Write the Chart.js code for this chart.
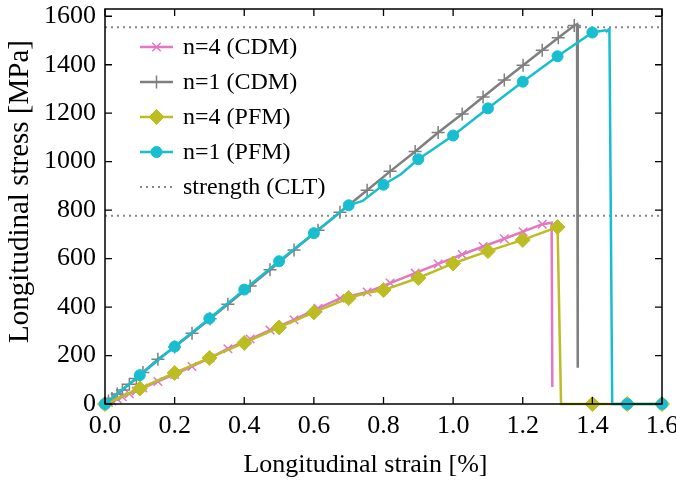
<!DOCTYPE html>
<html>
<head>
<meta charset="utf-8">
<script src="https://cdn.jsdelivr.net/npm/chart.js@4"></script>
<style>
  html, body { margin: 0; padding: 0; background: #fff; }
  #wrap { width: 676px; height: 481px; }
</style>
</head>
<body>
<div id="wrap"><canvas id="stress_chart"></canvas></div>
<script>
// data
const cdm4Strain = [0, 0.01, 0.02, 0.035, 0.05, 0.07, 0.09, 0.109, 0.152, 0.2, 0.25, 0.302, 0.353, 0.417, 0.474, 0.543, 0.612, 0.675, 0.753, 0.819, 0.891, 0.957, 1.026, 1.086, 1.147, 1.201, 1.256, 1.283, 1.285];
const cdm4Stress = [0, 6, 12, 21, 30, 42, 54, 66, 93, 122, 155, 190, 228, 268, 305, 348, 395, 436, 462, 499, 540, 578, 617, 650, 682, 711, 742, 748, 70];

const cdm1Strain = [0, 0.01, 0.02, 0.035, 0.05, 0.07, 0.09, 0.109, 0.152, 0.2, 0.25, 0.302, 0.353, 0.417, 0.474, 0.543, 0.612, 0.675, 0.753, 0.819, 0.891, 0.957, 1.026, 1.086, 1.147, 1.201, 1.256, 1.302, 1.348, 1.356, 1.358];
const cdm1Stress = [0, 12, 23, 41, 58, 82, 105, 130, 185, 235, 292, 352, 412, 487, 554, 636, 717, 791, 882, 960, 1042, 1120, 1197, 1267, 1337, 1398, 1460, 1511, 1562, 1567, 150];

const pfm4Strain = [0, 0.1, 0.2, 0.3, 0.4, 0.5, 0.6, 0.7, 0.75, 0.8, 0.9, 1.0, 1.1, 1.2, 1.3, 1.31, 1.4, 1.5, 1.6];
const pfm4Stress = [0, 64, 128, 190, 252, 316, 378, 437, 458, 470, 520, 580, 631, 677, 730, 0, 0, 0, 0];

const pfm1Strain = [0, 0.1, 0.2, 0.3, 0.4, 0.5, 0.6, 0.7, 0.74, 0.8, 0.85, 0.9, 1.0, 1.1, 1.2, 1.3, 1.4, 1.437, 1.441, 1.447, 1.449, 1.457, 1.5, 1.6];
const pfm1Stress = [0, 119, 237, 353, 472, 589, 705, 820, 838, 905, 948, 1010, 1108, 1220, 1330, 1435, 1533, 1542, 1538, 1546, 1546, 0, 0, 0];

const cltStrength = [1555, 777];

const xTicks = [0, 0.2, 0.4, 0.6, 0.8, 1.0, 1.2, 1.4, 1.6];
const yTicks = [0, 200, 400, 600, 800, 1000, 1200, 1400, 1600];

const xTitle = "Longitudinal strain [%]";
const yTitle = "Longitudinal stress [MPa]";

const FONT = "'Liberation Serif', 'Times New Roman', serif";

const pts = (xs, ys) => xs.map((x, i) => ({ x: x, y: ys[i] }));

// CDM curves: no marker on the two points of the final drop
const cdmRadius = (xs, r) => xs.map((x, i) => (i >= xs.length - 2 ? 0 : r));
// PFM curves: markers only on the 0.1 strain steps
const pfmRadius = (xs, r) =>
    xs.map((x) => (Math.abs(x * 10 - Math.round(x * 10)) < 1e-6 ? r : 0));

const datasets = [
    {
        label: "n=4 (CDM)",
        data: pts(cdm4Strain, cdm4Stress),
        borderColor: "#e377c2",
        backgroundColor: "#e377c2",
        pointStyle: "crossRot",
        pointRadius: cdmRadius(cdm4Strain, 6),
        legendRadius: 6,
        pointBorderWidth: 1.5,
        order: 4,
    },
    {
        label: "n=1 (CDM)",
        data: pts(cdm1Strain, cdm1Stress),
        borderColor: "#7f7f7f",
        backgroundColor: "#7f7f7f",
        pointStyle: "cross",
        pointRadius: cdmRadius(cdm1Strain, 6.5),
        legendRadius: 6.5,
        pointBorderWidth: 1.5,
        order: 3,
    },
    {
        label: "n=4 (PFM)",
        data: pts(pfm4Strain, pfm4Stress),
        borderColor: "#bcbd22",
        backgroundColor: "#bcbd22",
        pointStyle: "rectRot",
        pointRadius: pfmRadius(pfm4Strain, 7.5),
        legendRadius: 7.5,
        pointBorderWidth: 1,
        order: 2,
    },
    {
        label: "n=1 (PFM)",
        data: pts(pfm1Strain, pfm1Stress),
        borderColor: "#17becf",
        backgroundColor: "#17becf",
        pointStyle: "circle",
        pointRadius: pfmRadius(pfm1Strain, 5.5),
        legendRadius: 5.5,
        pointBorderWidth: 1,
        order: 1,
    },
];

cltStrength.forEach((s, i) => {
    datasets.push({
        label: i === 0 ? "strength (CLT)" : "",
        data: [{ x: 0, y: s }, { x: 1.6, y: s }],
        borderColor: "#888888",
        borderDash: [2, 4],
        borderWidth: 2,
        pointRadius: 0,
        order: 5,
    });
});

datasets.forEach((d) => {
    d.borderWidth = d.borderWidth || 2.5;
    d.tension = 0;
    d.clip = false;
    d.pointHoverRadius = 0;
});

// frame with inward ticks on all four sides
const framePlugin = {
    id: "frame",
    afterDatasetsDraw(chart) {
        const { ctx, chartArea: a, scales } = chart;
        ctx.save();
        ctx.strokeStyle = "#000";
        ctx.lineWidth = 1.3;
        ctx.beginPath();
        xTicks.forEach((v) => {
            const px = scales.x.getPixelForValue(v);
            ctx.moveTo(px, a.bottom);
            ctx.lineTo(px, a.bottom - 7);
            ctx.moveTo(px, a.top);
            ctx.lineTo(px, a.top + 7);
        });
        yTicks.forEach((v) => {
            const py = scales.y.getPixelForValue(v);
            ctx.moveTo(a.left, py);
            ctx.lineTo(a.left + 7, py);
            ctx.moveTo(a.right, py);
            ctx.lineTo(a.right - 7, py);
        });
        ctx.stroke();
        ctx.lineWidth = 1.5;
        ctx.strokeRect(a.left, a.top, a.right - a.left, a.bottom - a.top);
        ctx.restore();
    },
};

// axis titles, placed like the gnuplot original
const titlePlugin = {
    id: "titles",
    afterDraw(chart) {
        const { ctx, chartArea: a } = chart;
        ctx.save();
        ctx.fillStyle = "#000";
        ctx.textAlign = "center";
        ctx.textBaseline = "middle";
        ctx.font = "26px " + FONT;
        ctx.fillText(xTitle, (a.left + a.right) / 2 - 18, 465);
        ctx.translate(20, (a.top + a.bottom) / 2 - 15);
        ctx.rotate(-Math.PI / 2);
        ctx.font = "29px " + FONT;
        ctx.fillText(yTitle, 0, 0);
        ctx.restore();
    },
};

// gnuplot-like key: line sample with marker, inside the plot
const keyPlugin = {
    id: "key",
    afterDraw(chart) {
        const ctx = chart.ctx;
        const x0 = 140, x1 = 173, tx = 183;
        let y = 47;
        ctx.save();
        chart.data.datasets.forEach((d) => {
            if (!d.label) return;
            ctx.strokeStyle = d.borderColor;
            ctx.fillStyle = d.backgroundColor || d.borderColor;
            ctx.lineWidth = d.borderWidth;
            ctx.setLineDash(d.borderDash || []);
            ctx.beginPath();
            ctx.moveTo(x0, y);
            ctx.lineTo(x1, y);
            ctx.stroke();
            ctx.setLineDash([]);
            if (d.legendRadius) {
                ctx.lineWidth = d.pointBorderWidth;
                Chart.helpers.drawPoint(ctx, {
                    pointStyle: d.pointStyle,
                    radius: d.legendRadius,
                    rotation: 0,
                    borderWidth: d.pointBorderWidth,
                }, (x0 + x1) / 2, y);
            }
            ctx.fillStyle = "#000";
            ctx.font = "24px " + FONT;
            ctx.textAlign = "left";
            ctx.textBaseline = "middle";
            ctx.fillText(d.label, tx, y + 1);
            y += 35;
        });
        ctx.restore();
    },
};

const stressChart = document.querySelector("#stress_chart").getContext("2d");

const chartOptions = {
    responsive: true,
    maintainAspectRatio: false,
    animation: false,
    layout: {
        padding: { left: 0, right: 14, top: 9, bottom: 0 },
    },
    plugins: {
        legend: { display: false },
        tooltip: { enabled: false },
    },
    scales: {
        x: {
            type: "linear",
            min: 0,
            max: 1.6,
            afterBuildTicks: (scale) => {
                scale.ticks = xTicks.map((v) => ({ value: v }));
            },
            afterFit: (scale) => {
                scale.height = 77;
                scale.paddingLeft = 0;
                scale.paddingRight = 0;
            },
            grid: { display: false, drawTicks: false },
            border: { display: false },
            ticks: {
                padding: 7,
                color: "#000",
                font: { family: FONT, size: 26 },
                maxRotation: 0,
                callback: (v) => v.toFixed(1),
            },
        },
        y: {
            type: "linear",
            min: 0,
            max: 1630,
            afterBuildTicks: (scale) => {
                scale.ticks = yTicks.map((v) => ({ value: v }));
            },
            afterFit: (scale) => {
                scale.width = 105;
                scale.paddingTop = 0;
                scale.paddingBottom = 0;
            },
            grid: { display: false, drawTicks: false },
            border: { display: false },
            ticks: {
                padding: 9,
                color: "#000",
                font: { family: FONT, size: 26 },
                callback: (v) => String(v),
            },
        },
    },
};

const chart = new Chart(stressChart, {
    type: "line",
    data: { datasets: datasets },
    options: chartOptions,
    plugins: [framePlugin, titlePlugin, keyPlugin],
});
</script>
</body>
</html>
